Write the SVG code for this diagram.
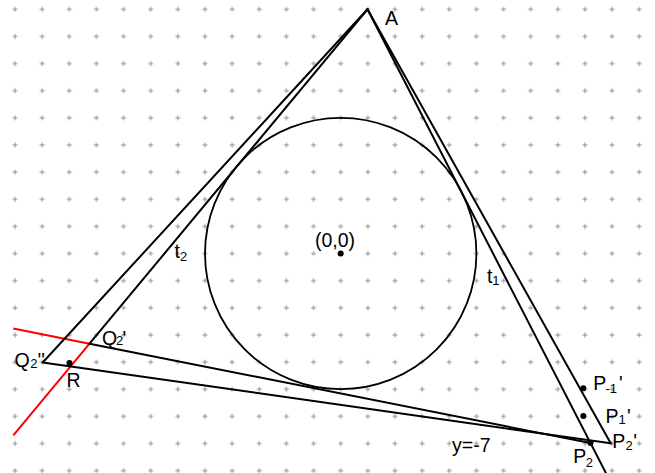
<svg xmlns="http://www.w3.org/2000/svg" width="655" height="473" viewBox="0 0 655 473">
<style>
.ln{stroke:#000;stroke-width:2;fill:none;stroke-linecap:round;stroke-linejoin:round}
.red{stroke:#f00;stroke-width:2;fill:none;stroke-linejoin:round}
.dot{fill:#000}
text{font-family:"Liberation Sans",Arial,sans-serif;font-size:19.5px;fill:#000}
.sub{font-size:13px}
.grid{stroke:#8c8c8c;stroke-width:1}
</style>
<defs>
<pattern id="gridpat" patternUnits="userSpaceOnUse" x="1.43" y="-4.27" width="27.14" height="27.14">
<path class="grid" d="M11.07 13.57h5M13.57 11.07v5"/>
</pattern>
</defs>
<rect width="655" height="473" fill="#fff"/>
<rect width="655" height="473" fill="url(#gridpat)"/>
<g id="circle">
<circle cx="340.7" cy="253.5" r="135.7" fill="none" stroke="#000" stroke-width="1.8"/>
</g>
<g id="connectors">
<polyline class="red" points="13.3,328.6 89.5,343.7 13.3,435.3"/>
<line class="ln" x1="367.5" y1="9.3" x2="89.5" y2="343.7"/>
<line class="ln" x1="89.5" y1="343.7" x2="590.5" y2="443"/>
<line class="ln" x1="367.5" y1="9.3" x2="609.5" y2="480"/>
<line class="ln" x1="367.5" y1="9.3" x2="42.7" y2="362.5"/>
<line class="ln" x1="42.7" y1="362.5" x2="610.7" y2="443.3"/>
<line class="ln" x1="367.5" y1="9.3" x2="610.7" y2="443.3"/>
</g>
<g id="points">
<circle class="dot" cx="340.7" cy="253.5" r="3"/>
<circle class="dot" cx="69.5" cy="363" r="3"/>
<circle class="dot" cx="583.3" cy="388.3" r="3"/>
<circle class="dot" cx="583.3" cy="416" r="3"/>
<circle class="dot" cx="590.5" cy="443" r="3"/>
</g>
<g id="labels">
<text x="385" y="25">A</text>
<text x="315" y="247">(0,0)</text>
<text x="174.5" y="258.3">t</text><text class="sub" x="180" y="260.7">2</text>
<text x="487" y="283.3">t</text><text class="sub" x="492.3" y="284.5">1</text>
<text x="102" y="344.5">Q</text><text class="sub" x="116" y="345.2">2</text><text x="122.5" y="344.5">'</text>
<text x="14.5" y="366.5">Q</text><text class="sub" x="30.3" y="368.3">2</text><text x="37.5" y="366.5">''</text>
<text x="66.5" y="386.7">R</text>
<text x="593.3" y="390">P</text><text class="sub" x="605.5" y="392.7">-1</text><text x="619" y="390">'</text>
<text x="605.5" y="423.3">P</text><text class="sub" x="618.5" y="424.3">1</text><text x="627" y="423.3">'</text>
<text x="612.3" y="448">P</text><text class="sub" x="625.5" y="450">2</text><text x="633.3" y="448">'</text>
<text x="573.3" y="463.3">P</text><text class="sub" x="585.8" y="466.7">2</text>
<text x="452" y="451.7">y=-7</text>
</g>
</svg>
